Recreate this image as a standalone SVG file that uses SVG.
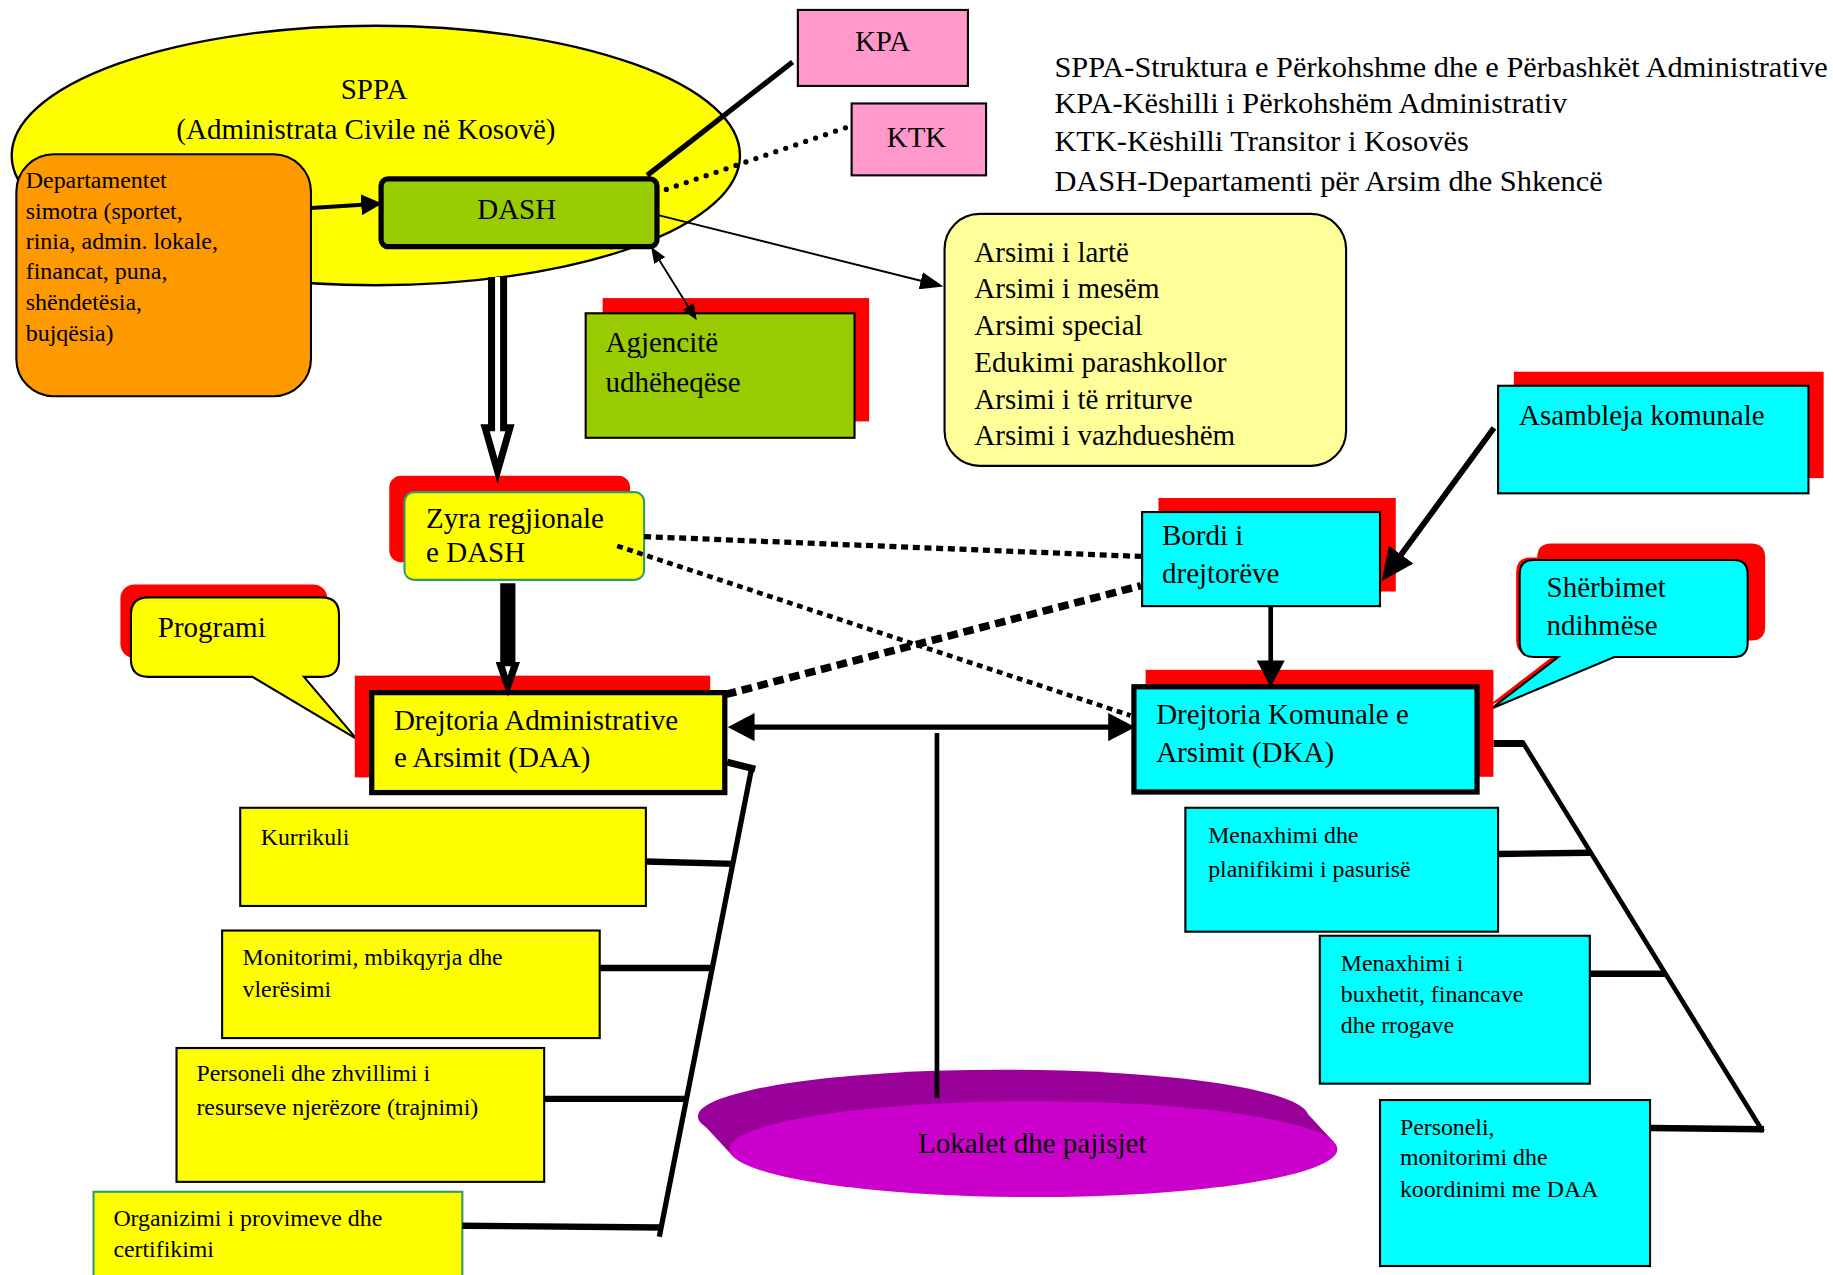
<svg xmlns="http://www.w3.org/2000/svg" width="1833" height="1275" viewBox="0 0 1833 1275">
<style>
text{font-family:"Liberation Serif","Times New Roman",serif;fill:#000}
.big{font-size:24.8px}
.leg{font-size:26px}
.sm{font-size:20.4px}
.box{stroke:#000;stroke-width:1.8}
.thick{stroke:#000;stroke-width:4.5}
.sh{fill:#FF0000;stroke:none}
.yel{fill:#FFFF00}
.cy{fill:#00FFFF}
.ln{fill:none;stroke:#000}
</style>
<defs>
<marker id="m1" viewBox="0 0 18 18" markerUnits="userSpaceOnUse" markerWidth="18" markerHeight="18" refX="1" refY="9" orient="auto-start-reverse"><path d="M0,0 L18,9 L0,18 z" fill="#000"/></marker>
<marker id="m2" viewBox="0 0 20 15" markerUnits="userSpaceOnUse" markerWidth="20" markerHeight="15" refX="1" refY="7.5" orient="auto-start-reverse"><path d="M0,0 L20,7.5 L0,15 z" fill="#000"/></marker>
<marker id="m3" viewBox="0 0 14 11" markerUnits="userSpaceOnUse" markerWidth="14" markerHeight="11" refX="1" refY="5.5" orient="auto-start-reverse"><path d="M0,0 L14,5.5 L0,11 z" fill="#000"/></marker>
<marker id="m4" viewBox="0 0 23 24" markerUnits="userSpaceOnUse" markerWidth="23" markerHeight="24" refX="1" refY="12" orient="auto-start-reverse"><path d="M0,0 L23,12 L0,24 z" fill="#000"/></marker>
<marker id="m5" viewBox="0 0 28 26" markerUnits="userSpaceOnUse" markerWidth="28" markerHeight="26" refX="1" refY="13" orient="auto-start-reverse"><path d="M0,0 L28,13 L0,26 z" fill="#000"/></marker>
<marker id="m6" viewBox="0 0 30 21" markerUnits="userSpaceOnUse" markerWidth="30" markerHeight="21" refX="1" refY="10.5" orient="auto-start-reverse"><path d="M0,0 L30,10.5 L0,21 z M4,8 L12,10.5 L4,13 z" fill="#000" fill-rule="evenodd"/></marker>
</defs>
<rect width="1833" height="1275" fill="#fff"/>
<g transform="scale(1.169)">
<g id="sppa">
<ellipse cx="321.5" cy="133" rx="311.5" ry="111" fill="#FFFF00" stroke="#000" stroke-width="2"/>
<text class="big" x="320" y="85" text-anchor="middle">SPPA</text>
<text class="big" x="313" y="119" text-anchor="middle">(Administrata Civile në Kosovë)</text>
</g>
<g id="departamentet">
<rect x="14" y="132" width="252" height="207" rx="32" fill="#FF9900" class="box"/>
<text style="font-size:20.5px" x="22" y="161">Departamentet</text>
<text style="font-size:20.5px" x="22" y="187">simotra (sportet,</text>
<text style="font-size:20.5px" x="22" y="213">rinia, admin. lokale,</text>
<text style="font-size:20.5px" x="22" y="239">financat, puna,</text>
<text style="font-size:20.5px" x="22" y="265">shëndetësia,</text>
<text style="font-size:20.5px" x="22" y="291.5">bujqësia)</text>
</g>
<g id="dash">
<rect x="326" y="153" width="236" height="58" rx="6" fill="#99CC00" class="thick"/>
<text class="big" x="442" y="187" text-anchor="middle">DASH</text>
</g>
<g id="kpa">
<rect x="682.5" y="8.5" width="145.5" height="65" fill="#FF99CC" class="box"/>
<text class="big" x="755" y="44" text-anchor="middle">KPA</text>
</g>
<g id="ktk">
<rect x="728.5" y="88.5" width="115" height="61.5" fill="#FF99CC" class="box"/>
<text class="big" x="784" y="126" text-anchor="middle">KTK</text>
</g>
<g id="legend">
<text class="leg" x="902" y="65.5">SPPA-Struktura e Përkohshme dhe e Përbashkët Administrative</text>
<text class="leg" x="902" y="97">KPA-Këshilli i Përkohshëm Administrativ</text>
<text class="leg" x="902" y="129">KTK-Këshilli Transitor i Kosovës</text>
<text class="leg" x="902" y="163">DASH-Departamenti për Arsim dhe Shkencë</text>
</g>
<g id="agjencite">
<rect x="515.5" y="255" width="228" height="105.5" class="sh"/>
<rect x="501" y="268" width="230" height="106.5" fill="#99CC00" class="box"/>
<text class="big" x="518" y="301.5">Agjencitë</text>
<text class="big" x="518" y="335">udhëheqëse</text>
</g>
<g id="arsimi">
<rect x="808" y="183" width="343.5" height="215.5" rx="30" fill="#FFFF99" class="box"/>
<text class="big" x="833.5" y="224">Arsimi i lartë</text>
<text class="big" x="833.5" y="255">Arsimi i mesëm</text>
<text class="big" x="833.5" y="286.5">Arsimi special</text>
<text class="big" x="833.5" y="318">Edukimi parashkollor</text>
<text class="big" x="833.5" y="349.5">Arsimi i të rriturve</text>
<text class="big" x="833.5" y="381">Arsimi i vazhdueshëm</text>
</g>
<g id="zyra">
<rect x="333" y="407" width="206" height="74" rx="10" class="sh"/>
<rect x="346" y="421" width="205" height="75" rx="8" fill="#FFFF00" stroke="#339966" stroke-width="1.8"/>
<text class="big" x="364.5" y="452">Zyra regjionale</text>
<text class="big" x="364.5" y="480.5">e DASH</text>
</g>
<g id="programi">
<rect x="103" y="500" width="177" height="63" rx="12" class="sh"/>
<path d="M127,511 H275 Q290,511 290,526 V564 Q290,579 275,579 H260 L305,632 L216,579 H127 Q112,579 112,564 V526 Q112,511 127,511 Z" fill="#FFFF00" class="box"/>
<text class="big" x="135" y="544.5">Programi</text>
</g>
<g id="daa">
<rect x="303.5" y="578" width="304" height="87" class="sh"/>
<rect x="318" y="592.5" width="302" height="85.5" fill="#FFFF00" class="thick"/>
<text class="big" x="337" y="624.5">Drejtoria Administrative</text>
<text class="big" x="337" y="656">e Arsimit (DAA)</text>
</g>
<g id="kurrikuli">
<rect x="205.5" y="691" width="347" height="84" class="yel box"/>
<text class="sm" x="223" y="723">Kurrikuli</text>
</g>
<g id="monitorimi">
<rect x="190" y="796" width="323" height="92" class="yel box"/>
<text class="sm" x="207.5" y="825.5">Monitorimi, mbikqyrja dhe</text>
<text class="sm" x="207.5" y="852.5">vlerësimi</text>
</g>
<g id="personeli-daa">
<rect x="151" y="896.5" width="314.5" height="114.5" class="yel box"/>
<text class="sm" x="168" y="925">Personeli dhe zhvillimi i</text>
<text class="sm" x="168" y="954">resurseve njerëzore (trajnimi)</text>
</g>
<g id="organizimi">
<rect x="80" y="1019.5" width="315.5" height="80" fill="#FFFF00" stroke="#339966" stroke-width="1.8"/>
<text class="sm" x="97" y="1049">Organizimi i provimeve dhe</text>
<text class="sm" x="97" y="1075.5">certifikimi</text>
</g>
<g id="asambleja">
<rect x="1295" y="318" width="265" height="91" class="sh"/>
<rect x="1281.5" y="330" width="265.5" height="92" class="cy box"/>
<text class="big" x="1299.5" y="363.5">Asambleja komunale</text>
</g>
<g id="bordi">
<rect x="991" y="426" width="203" height="80" class="sh"/>
<rect x="977" y="438" width="203.5" height="80.5" class="cy box"/>
<text class="big" x="994" y="466">Bordi i</text>
<text class="big" x="994" y="499">drejtorëve</text>
</g>
<g id="sherbimet">
<path d="M1312,479 H1483 Q1495,479 1495,491 V550 Q1495,562 1483,562 H1381 L1276,606 L1333,562 H1312 Q1300,562 1300,550 V491 Q1300,479 1312,479 Z" transform="translate(15,-14)" class="sh"/>
<path d="M1312,479 H1483 Q1495,479 1495,491 V550 Q1495,562 1483,562 H1381 L1276,606 L1333,562 H1312 Q1300,562 1300,550 V491 Q1300,479 1312,479 Z" transform="translate(-3,-2)" class="sh"/>
<path d="M1312,479 H1483 Q1495,479 1495,491 V550 Q1495,562 1483,562 H1381 L1276,606 L1333,562 H1312 Q1300,562 1300,550 V491 Q1300,479 1312,479 Z" class="cy box"/>
<text class="big" x="1323" y="510.5">Shërbimet</text>
<text class="big" x="1323" y="543">ndihmëse</text>
</g>
<g id="dka">
<rect x="980" y="573" width="297.5" height="91.5" class="sh"/>
<rect x="970" y="587.5" width="293.5" height="90" fill="#00FFFF" class="thick"/>
<text class="big" x="989" y="619">Drejtoria Komunale e</text>
<text class="big" x="989" y="651.5">Arsimit (DKA)</text>
</g>
<g id="menaxhimi-pasurise">
<rect x="1014" y="691" width="267.5" height="106" class="cy box"/>
<text class="sm" x="1033.5" y="721.5">Menaxhimi dhe</text>
<text class="sm" x="1033.5" y="750">planifikimi i pasurisë</text>
</g>
<g id="menaxhimi-buxhetit">
<rect x="1129" y="800.5" width="231" height="126.5" class="cy box"/>
<text class="sm" x="1147" y="831">Menaxhimi i</text>
<text class="sm" x="1147" y="857">buxhetit, financave</text>
<text class="sm" x="1147" y="884">dhe rrogave</text>
</g>
<g id="personeli-dka">
<rect x="1180.5" y="941" width="231" height="142" class="cy box"/>
<text class="sm" x="1197.5" y="971">Personeli,</text>
<text class="sm" x="1197.5" y="997">monitorimi dhe</text>
<text class="sm" x="1197.5" y="1024">koordinimi me DAA</text>
</g>
<g id="lokalet">
<ellipse cx="858" cy="955" rx="261" ry="40" fill="#990099"/>
<polygon points="1115.2,949.1 1141.2,977.1 626.8,988.9 600.8,960.9" fill="#990099"/>
<ellipse cx="884" cy="983" rx="260" ry="41" fill="#CC00CC"/>
<text class="big" x="883" y="986.5" text-anchor="middle">Lokalet dhe pajisjet</text>
</g>
<g id="connectors">
<line x1="553.6" y1="150" x2="678" y2="53" class="ln" stroke-width="4.5"/>
<line x1="570" y1="162" x2="727" y2="108" class="ln" stroke-width="4.5" stroke-dasharray="0 9" stroke-linecap="round"/>
<line x1="266" y1="178" x2="310" y2="175.1" class="ln" stroke-width="3.5" marker-end="url(#m1)"/>
<line x1="563" y1="184" x2="788.6" y2="240.4" class="ln" stroke-width="1.6" marker-end="url(#m2)"/>
<line x1="563.8" y1="222.1" x2="589.2" y2="263" class="ln" stroke-width="1.6" marker-start="url(#m3)" marker-end="url(#m3)"/>
<path d="M420.5,237 V366 H415 L425.6,403 L436.2,366 H430.8 V237" fill="#fff" stroke="#000" stroke-width="6" stroke-linejoin="miter" stroke-miterlimit="10"/>
<line x1="434.4" y1="499" x2="434.4" y2="567" class="ln" stroke-width="13" marker-end="url(#m6)"/>
<line x1="551" y1="459" x2="976" y2="476" class="ln" stroke-width="4.5" stroke-dasharray="6 4"/>
<line x1="528" y1="467" x2="967" y2="612" class="ln" stroke-width="4" stroke-dasharray="5 4"/>
<line x1="621" y1="594" x2="976" y2="501" class="ln" stroke-width="6.5" stroke-dasharray="9 5"/>
<line x1="644.5" y1="622" x2="949" y2="622" class="ln" stroke-width="4.5" marker-start="url(#m4)" marker-end="url(#m4)"/>
<line x1="801.5" y1="627" x2="801.5" y2="939" class="ln" stroke-width="4"/>
<line x1="1278" y1="366" x2="1198" y2="475.2" class="ln" stroke-width="5" marker-end="url(#m5)"/>
<line x1="1087" y1="518" x2="1087" y2="566" class="ln" stroke-width="4" marker-end="url(#m4)"/>
<line x1="622" y1="652" x2="646" y2="658" class="ln" stroke-width="6"/>
<line x1="643" y1="657" x2="564" y2="1058" class="ln" stroke-width="4.5"/>
<line x1="552.5" y1="737" x2="628" y2="739" class="ln" stroke-width="5.5"/>
<line x1="513" y1="828" x2="610" y2="828" class="ln" stroke-width="5.5"/>
<line x1="465.5" y1="940" x2="587" y2="940" class="ln" stroke-width="5.5"/>
<line x1="395.5" y1="1048.5" x2="566" y2="1050" class="ln" stroke-width="5.5"/>
<line x1="1277.6" y1="636" x2="1303" y2="636" class="ln" stroke-width="6"/>
<line x1="1302" y1="634" x2="1508" y2="968" class="ln" stroke-width="4"/>
<line x1="1281.5" y1="730.5" x2="1360" y2="729.5" class="ln" stroke-width="5.5"/>
<line x1="1360" y1="833" x2="1424" y2="833" class="ln" stroke-width="5.5"/>
<line x1="1411.5" y1="965" x2="1509" y2="966" class="ln" stroke-width="5.5"/>
</g>
</g>
</svg>
